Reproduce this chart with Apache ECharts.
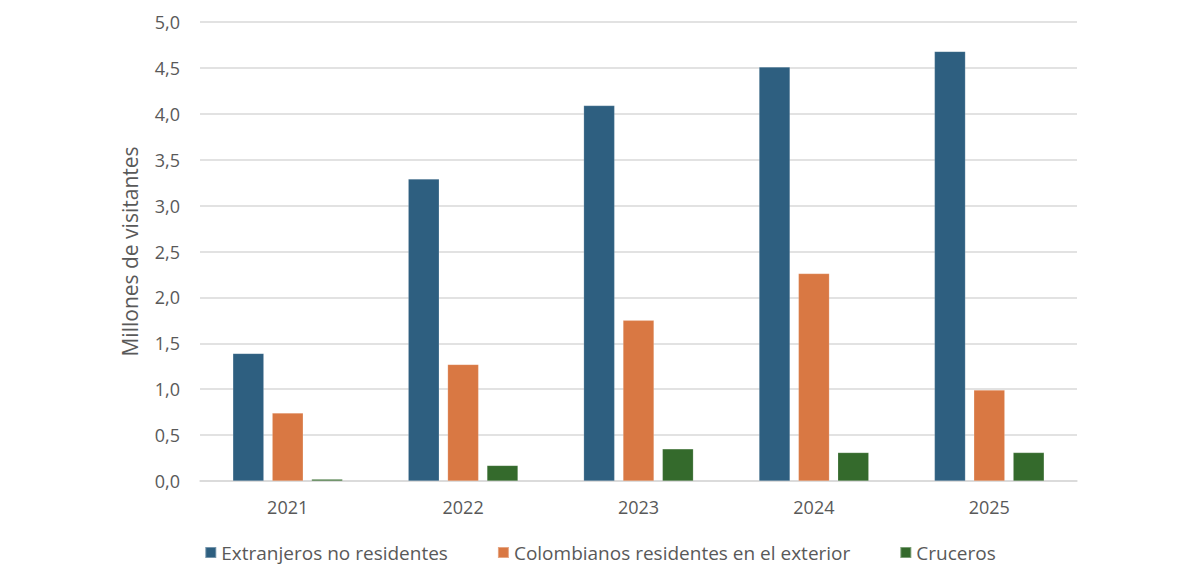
<!DOCTYPE html>
<html><head><meta charset="utf-8">
<script src="https://cdn.jsdelivr.net/npm/echarts@6/dist/echarts.min.js"></script>
<style>html,body{margin:0;padding:0;background:#fff}#c{width:1200px;height:577px}</style>
</head><body><div id="c"></div>
<script>
const categories = ['2021','2022','2023','2024','2025'];
const extranjeros = [1.39, 3.29, 4.09, 4.51, 4.68];
const colombianos = [0.74, 1.27, 1.75, 2.26, 0.99];
const cruceros = [0.02, 0.17, 0.35, 0.31, 0.31];
const seriesNames = ['Extranjeros no residentes','Colombianos residentes en el exterior','Cruceros'];
const colors = ['#2e5f80','#d97843','#346a2c'];
const font = 'Open Sans, sans-serif';
const chart = echarts.init(document.getElementById('c'), null, {renderer:'svg'});
const mk = (name, data, color) => ({
  name, type:'bar', data, barWidth:31, barGap:'27%',
  itemStyle:{color, borderColor:'rgba(255,255,255,0.35)', borderWidth:0.5}
});
chart.setOption({
  animation:false,
  textStyle:{fontFamily:font},
  grid:{left:200, right:123, top:22, bottom:96, containLabel:false},
  legend:{
    bottom:10, left:'center', itemWidth:11, itemHeight:11, itemGap:49, icon:'rect',
    textStyle:{fontSize:19, color:'#595959', fontFamily:font},
    data:seriesNames
  },
  xAxis:{
    type:'category', data:categories,
    axisLine:{lineStyle:{color:'#d9d9d9', width:1.5}},
    axisTick:{show:false},
    axisLabel:{fontSize:18, color:'#595959', margin:17, fontFamily:font}
  },
  yAxis:{
    type:'value', min:0, max:5, interval:0.5,
    name:'Millones de visitantes', nameLocation:'middle', nameGap:60, nameRotate:90,
    nameTextStyle:{fontSize:21, color:'#595959', fontFamily:font},
    axisLabel:{fontSize:18, color:'#595959', margin:20, fontFamily:font,
      formatter:v=>v.toFixed(1).replace('.',',')},
    splitLine:{lineStyle:{color:'#d9d9d9', width:1.5}},
    axisLine:{show:false}, axisTick:{show:false}
  },
  series:[
    mk(seriesNames[0], extranjeros, colors[0]),
    mk(seriesNames[1], colombianos, colors[1]),
    mk(seriesNames[2], cruceros, colors[2])
  ]
});
</script></body></html>
